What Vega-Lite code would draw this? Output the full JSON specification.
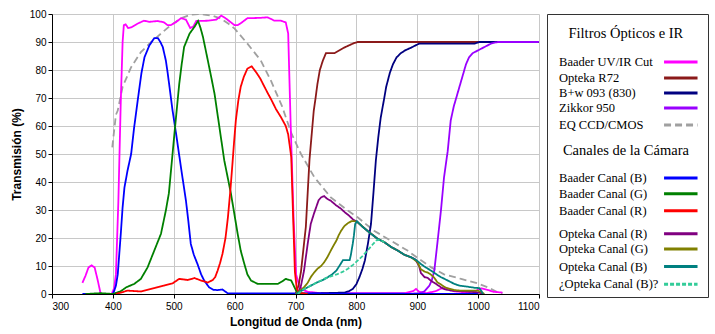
{
  "$schema": "https://vega.github.io/schema/vega-lite/v6.json",
  "padding": {"left": 10, "top": 9, "right": 8, "bottom": 5},
  "spacing": 8,
  "bounds": "flush",
  "background": "white",
  "config": {
    "font": "Liberation Sans",
    "axis": {"labelFont": "Liberation Sans", "titleFont": "Liberation Sans", "labelColor": "#000", "titleColor": "#000", "domainColor": "#000", "tickColor": "#000", "gridColor": "#c8c8c8", "gridWidth": 1}
  },
  "datasets": {
    "curves": [
      {"s":"EQ CCD/CMOS","x":399,"y":52.4},{"s":"EQ CCD/CMOS","x":405,"y":64},{"s":"EQ CCD/CMOS","x":408,"y":65.5},{"s":"EQ CCD/CMOS","x":416,"y":74},{"s":"EQ CCD/CMOS","x":430,"y":81},{"s":"EQ CCD/CMOS","x":446,"y":86.4},{"s":"EQ CCD/CMOS","x":463,"y":90},{"s":"EQ CCD/CMOS","x":479,"y":93},{"s":"EQ CCD/CMOS","x":495,"y":96},{"s":"EQ CCD/CMOS","x":512,"y":98.5},{"s":"EQ CCD/CMOS","x":528,"y":99.8},{"s":"EQ CCD/CMOS","x":540,"y":100},{"s":"EQ CCD/CMOS","x":550,"y":99.8},{"s":"EQ CCD/CMOS","x":565,"y":99.3},{"s":"EQ CCD/CMOS","x":578,"y":98.3},{"s":"EQ CCD/CMOS","x":590,"y":96.5},{"s":"EQ CCD/CMOS","x":600,"y":94.8},{"s":"EQ CCD/CMOS","x":621,"y":89.4},{"s":"EQ CCD/CMOS","x":643,"y":83.4},{"s":"EQ CCD/CMOS","x":660,"y":76},{"s":"EQ CCD/CMOS","x":678,"y":67},{"s":"EQ CCD/CMOS","x":693,"y":57.5},{"s":"EQ CCD/CMOS","x":709,"y":50},{"s":"EQ CCD/CMOS","x":731,"y":41.7},{"s":"EQ CCD/CMOS","x":758,"y":34.5},{"s":"EQ CCD/CMOS","x":786,"y":29.8},{"s":"EQ CCD/CMOS","x":802,"y":27.4},{"s":"EQ CCD/CMOS","x":829,"y":22.6},{"s":"EQ CCD/CMOS","x":857,"y":19},{"s":"EQ CCD/CMOS","x":884,"y":15.5},{"s":"EQ CCD/CMOS","x":903,"y":12.5},{"s":"EQ CCD/CMOS","x":923,"y":9.5},{"s":"EQ CCD/CMOS","x":944,"y":7},{"s":"EQ CCD/CMOS","x":972,"y":5.4},{"s":"EQ CCD/CMOS","x":999,"y":3.8},{"s":"EQ CCD/CMOS","x":1016,"y":2.4},{"s":"EQ CCD/CMOS","x":1032,"y":0.6},{"s":"EQ CCD/CMOS","x":1040,"y":0.3},

      {"s":"Baader UV/IR Cut","x":350,"y":4},{"s":"Baader UV/IR Cut","x":355,"y":6.5},{"s":"Baader UV/IR Cut","x":360,"y":9.5},{"s":"Baader UV/IR Cut","x":365,"y":10.2},{"s":"Baader UV/IR Cut","x":370,"y":9.5},{"s":"Baader UV/IR Cut","x":375,"y":5},{"s":"Baader UV/IR Cut","x":380,"y":0},{"s":"Baader UV/IR Cut","x":398,"y":0},{"s":"Baader UV/IR Cut","x":402,"y":2},{"s":"Baader UV/IR Cut","x":405,"y":7},{"s":"Baader UV/IR Cut","x":409,"y":33},{"s":"Baader UV/IR Cut","x":413,"y":69},{"s":"Baader UV/IR Cut","x":416,"y":90},{"s":"Baader UV/IR Cut","x":418,"y":96},{"s":"Baader UV/IR Cut","x":421,"y":96.3},{"s":"Baader UV/IR Cut","x":425,"y":95},{"s":"Baader UV/IR Cut","x":430,"y":95.2},{"s":"Baader UV/IR Cut","x":440,"y":96.5},{"s":"Baader UV/IR Cut","x":451,"y":97.6},{"s":"Baader UV/IR Cut","x":460,"y":97.2},{"s":"Baader UV/IR Cut","x":474,"y":97.5},{"s":"Baader UV/IR Cut","x":484,"y":97},{"s":"Baader UV/IR Cut","x":490,"y":96},{"s":"Baader UV/IR Cut","x":495,"y":96},{"s":"Baader UV/IR Cut","x":503,"y":97},{"s":"Baader UV/IR Cut","x":512,"y":98.5},{"s":"Baader UV/IR Cut","x":520,"y":98},{"s":"Baader UV/IR Cut","x":527,"y":95},{"s":"Baader UV/IR Cut","x":532,"y":95.5},{"s":"Baader UV/IR Cut","x":537,"y":97.5},{"s":"Baader UV/IR Cut","x":556,"y":97.6},{"s":"Baader UV/IR Cut","x":570,"y":98},{"s":"Baader UV/IR Cut","x":578,"y":99.4},{"s":"Baader UV/IR Cut","x":585,"y":98.5},{"s":"Baader UV/IR Cut","x":594,"y":97},{"s":"Baader UV/IR Cut","x":600,"y":96},{"s":"Baader UV/IR Cut","x":605,"y":96},{"s":"Baader UV/IR Cut","x":612,"y":97},{"s":"Baader UV/IR Cut","x":621,"y":98.5},{"s":"Baader UV/IR Cut","x":640,"y":98.6},{"s":"Baader UV/IR Cut","x":654,"y":98.8},{"s":"Baader UV/IR Cut","x":660,"y":98.2},{"s":"Baader UV/IR Cut","x":665,"y":97.6},{"s":"Baader UV/IR Cut","x":676,"y":97.6},{"s":"Baader UV/IR Cut","x":684,"y":97},{"s":"Baader UV/IR Cut","x":688,"y":93},{"s":"Baader UV/IR Cut","x":692,"y":61},{"s":"Baader UV/IR Cut","x":697,"y":26},{"s":"Baader UV/IR Cut","x":701,"y":7},{"s":"Baader UV/IR Cut","x":706,"y":3},{"s":"Baader UV/IR Cut","x":712,"y":1.5},{"s":"Baader UV/IR Cut","x":720,"y":0.8},{"s":"Baader UV/IR Cut","x":740,"y":0.3},{"s":"Baader UV/IR Cut","x":800,"y":0.3},{"s":"Baader UV/IR Cut","x":880,"y":0.3},{"s":"Baader UV/IR Cut","x":893,"y":1},{"s":"Baader UV/IR Cut","x":898,"y":1.8},{"s":"Baader UV/IR Cut","x":903,"y":0.8},{"s":"Baader UV/IR Cut","x":915,"y":0.3},{"s":"Baader UV/IR Cut","x":930,"y":1},{"s":"Baader UV/IR Cut","x":940,"y":2},{"s":"Baader UV/IR Cut","x":950,"y":2},{"s":"Baader UV/IR Cut","x":960,"y":1},{"s":"Baader UV/IR Cut","x":980,"y":0.5},{"s":"Baader UV/IR Cut","x":995,"y":1},{"s":"Baader UV/IR Cut","x":1005,"y":2},{"s":"Baader UV/IR Cut","x":1015,"y":1.5},{"s":"Baader UV/IR Cut","x":1025,"y":0.8},{"s":"Baader UV/IR Cut","x":1040,"y":0.5},

      {"s":"Opteka R72","x":700,"y":0},{"s":"Opteka R72","x":705,"y":3},{"s":"Opteka R72","x":709,"y":8},{"s":"Opteka R72","x":713,"y":16},{"s":"Opteka R72","x":717,"y":24},{"s":"Opteka R72","x":720,"y":36},{"s":"Opteka R72","x":723,"y":48},{"s":"Opteka R72","x":727,"y":58},{"s":"Opteka R72","x":730,"y":65.5},{"s":"Opteka R72","x":733,"y":70},{"s":"Opteka R72","x":736,"y":75},{"s":"Opteka R72","x":740,"y":80},{"s":"Opteka R72","x":745,"y":83.4},{"s":"Opteka R72","x":750,"y":86},{"s":"Opteka R72","x":764,"y":86},{"s":"Opteka R72","x":780,"y":88},{"s":"Opteka R72","x":795,"y":89.5},{"s":"Opteka R72","x":802,"y":90},{"s":"Opteka R72","x":1100,"y":90},

      {"s":"B+w 093 (830)","x":700,"y":0},{"s":"B+w 093 (830)","x":780,"y":0.5},{"s":"B+w 093 (830)","x":788,"y":1},{"s":"B+w 093 (830)","x":794,"y":1.8},{"s":"B+w 093 (830)","x":800,"y":3.5},{"s":"B+w 093 (830)","x":805,"y":6},{"s":"B+w 093 (830)","x":810,"y":9},{"s":"B+w 093 (830)","x":814,"y":12},{"s":"B+w 093 (830)","x":819,"y":18},{"s":"B+w 093 (830)","x":824,"y":25},{"s":"B+w 093 (830)","x":828,"y":36},{"s":"B+w 093 (830)","x":832,"y":47.7},{"s":"B+w 093 (830)","x":836,"y":56},{"s":"B+w 093 (830)","x":840,"y":63},{"s":"B+w 093 (830)","x":845,"y":69},{"s":"B+w 093 (830)","x":849,"y":74},{"s":"B+w 093 (830)","x":855,"y":79},{"s":"B+w 093 (830)","x":860,"y":82},{"s":"B+w 093 (830)","x":866,"y":84.5},{"s":"B+w 093 (830)","x":873,"y":86},{"s":"B+w 093 (830)","x":880,"y":87},{"s":"B+w 093 (830)","x":890,"y":88},{"s":"B+w 093 (830)","x":903,"y":89.4},{"s":"B+w 093 (830)","x":994,"y":89.4},{"s":"B+w 093 (830)","x":1002,"y":90},{"s":"B+w 093 (830)","x":1100,"y":90},

      {"s":"Zikkor 950","x":880,"y":0},{"s":"Zikkor 950","x":905,"y":0.3},{"s":"Zikkor 950","x":912,"y":1},{"s":"Zikkor 950","x":920,"y":3},{"s":"Zikkor 950","x":924,"y":5},{"s":"Zikkor 950","x":928,"y":8.3},{"s":"Zikkor 950","x":933,"y":18},{"s":"Zikkor 950","x":939,"y":30},{"s":"Zikkor 950","x":944,"y":41.7},{"s":"Zikkor 950","x":950,"y":51},{"s":"Zikkor 950","x":955,"y":62},{"s":"Zikkor 950","x":960,"y":67},{"s":"Zikkor 950","x":964,"y":70},{"s":"Zikkor 950","x":972,"y":76},{"s":"Zikkor 950","x":980,"y":82},{"s":"Zikkor 950","x":985,"y":84.5},{"s":"Zikkor 950","x":991,"y":86},{"s":"Zikkor 950","x":1005,"y":87.6},{"s":"Zikkor 950","x":1021,"y":89.4},{"s":"Zikkor 950","x":1032,"y":90},{"s":"Zikkor 950","x":1100,"y":90},

      {"s":"Baader Canal (B)","x":350,"y":0},{"s":"Baader Canal (B)","x":400,"y":0},{"s":"Baader Canal (B)","x":402,"y":1},{"s":"Baader Canal (B)","x":405,"y":3},{"s":"Baader Canal (B)","x":408,"y":7},{"s":"Baader Canal (B)","x":413,"y":21.5},{"s":"Baader Canal (B)","x":416,"y":31},{"s":"Baader Canal (B)","x":419,"y":38},{"s":"Baader Canal (B)","x":424,"y":44},{"s":"Baader Canal (B)","x":430,"y":50},{"s":"Baader Canal (B)","x":435,"y":59.6},{"s":"Baader Canal (B)","x":443,"y":72.7},{"s":"Baader Canal (B)","x":447,"y":79},{"s":"Baader Canal (B)","x":452,"y":84.6},{"s":"Baader Canal (B)","x":460,"y":88.8},{"s":"Baader Canal (B)","x":468,"y":91.4},{"s":"Baader Canal (B)","x":474,"y":91.4},{"s":"Baader Canal (B)","x":478,"y":90},{"s":"Baader Canal (B)","x":482,"y":88.2},{"s":"Baader Canal (B)","x":487,"y":83.4},{"s":"Baader Canal (B)","x":490,"y":79},{"s":"Baader Canal (B)","x":493,"y":74},{"s":"Baader Canal (B)","x":498,"y":65.6},{"s":"Baader Canal (B)","x":504,"y":57},{"s":"Baader Canal (B)","x":508,"y":51},{"s":"Baader Canal (B)","x":512,"y":45},{"s":"Baader Canal (B)","x":520,"y":33.4},{"s":"Baader Canal (B)","x":524,"y":26},{"s":"Baader Canal (B)","x":528,"y":17.9},{"s":"Baader Canal (B)","x":533,"y":14},{"s":"Baader Canal (B)","x":539,"y":10.7},{"s":"Baader Canal (B)","x":545,"y":7},{"s":"Baader Canal (B)","x":550,"y":4.8},{"s":"Baader Canal (B)","x":558,"y":2.4},{"s":"Baader Canal (B)","x":565,"y":1.5},{"s":"Baader Canal (B)","x":572,"y":1.4},{"s":"Baader Canal (B)","x":580,"y":1.6},{"s":"Baader Canal (B)","x":589,"y":0.2},{"s":"Baader Canal (B)","x":700,"y":0.2},{"s":"Baader Canal (B)","x":1000,"y":0},

      {"s":"Baader Canal (G)","x":355,"y":0},{"s":"Baader Canal (G)","x":380,"y":0.3},{"s":"Baader Canal (G)","x":400,"y":0},{"s":"Baader Canal (G)","x":413,"y":1},{"s":"Baader Canal (G)","x":422,"y":2.4},{"s":"Baader Canal (G)","x":435,"y":3.6},{"s":"Baader Canal (G)","x":446,"y":5.4},{"s":"Baader Canal (G)","x":457,"y":9.5},{"s":"Baader Canal (G)","x":468,"y":15.5},{"s":"Baader Canal (G)","x":479,"y":21.5},{"s":"Baader Canal (G)","x":487,"y":29.8},{"s":"Baader Canal (G)","x":492,"y":36},{"s":"Baader Canal (G)","x":495,"y":43},{"s":"Baader Canal (G)","x":501,"y":57},{"s":"Baader Canal (G)","x":505,"y":66},{"s":"Baader Canal (G)","x":509,"y":75},{"s":"Baader Canal (G)","x":513,"y":82},{"s":"Baader Canal (G)","x":517,"y":88.2},{"s":"Baader Canal (G)","x":526,"y":93},{"s":"Baader Canal (G)","x":534,"y":95.4},{"s":"Baader Canal (G)","x":540,"y":97.5},{"s":"Baader Canal (G)","x":544,"y":95},{"s":"Baader Canal (G)","x":548,"y":91.8},{"s":"Baader Canal (G)","x":556,"y":83.4},{"s":"Baader Canal (G)","x":562,"y":77},{"s":"Baader Canal (G)","x":567,"y":71.5},{"s":"Baader Canal (G)","x":575,"y":59.6},{"s":"Baader Canal (G)","x":583,"y":47.7},{"s":"Baader Canal (G)","x":594,"y":35.8},{"s":"Baader Canal (G)","x":600,"y":28},{"s":"Baader Canal (G)","x":605,"y":21.5},{"s":"Baader Canal (G)","x":610,"y":15.5},{"s":"Baader Canal (G)","x":616,"y":10.7},{"s":"Baader Canal (G)","x":621,"y":7},{"s":"Baader Canal (G)","x":627,"y":4.8},{"s":"Baader Canal (G)","x":638,"y":3.6},{"s":"Baader Canal (G)","x":671,"y":3.6},{"s":"Baader Canal (G)","x":678,"y":4.5},{"s":"Baader Canal (G)","x":684,"y":5.4},{"s":"Baader Canal (G)","x":690,"y":5},{"s":"Baader Canal (G)","x":693,"y":4.8},{"s":"Baader Canal (G)","x":697,"y":3},{"s":"Baader Canal (G)","x":701,"y":1.2},{"s":"Baader Canal (G)","x":706,"y":0.3},{"s":"Baader Canal (G)","x":720,"y":0},

      {"s":"Baader Canal (R)","x":405,"y":0},{"s":"Baader Canal (R)","x":413,"y":0.5},{"s":"Baader Canal (R)","x":424,"y":1.2},{"s":"Baader Canal (R)","x":446,"y":0.9},{"s":"Baader Canal (R)","x":468,"y":2.1},{"s":"Baader Canal (R)","x":484,"y":3},{"s":"Baader Canal (R)","x":498,"y":3.8},{"s":"Baader Canal (R)","x":509,"y":5.4},{"s":"Baader Canal (R)","x":516,"y":5.2},{"s":"Baader Canal (R)","x":523,"y":5},{"s":"Baader Canal (R)","x":534,"y":5.7},{"s":"Baader Canal (R)","x":545,"y":4.8},{"s":"Baader Canal (R)","x":556,"y":4.1},{"s":"Baader Canal (R)","x":564,"y":5},{"s":"Baader Canal (R)","x":568,"y":6},{"s":"Baader Canal (R)","x":572,"y":8.3},{"s":"Baader Canal (R)","x":576,"y":11},{"s":"Baader Canal (R)","x":580,"y":14.3},{"s":"Baader Canal (R)","x":585,"y":20},{"s":"Baader Canal (R)","x":589,"y":27.4},{"s":"Baader Canal (R)","x":593,"y":37},{"s":"Baader Canal (R)","x":596,"y":45.3},{"s":"Baader Canal (R)","x":599,"y":54},{"s":"Baader Canal (R)","x":602,"y":62},{"s":"Baader Canal (R)","x":606,"y":69},{"s":"Baader Canal (R)","x":610,"y":74},{"s":"Baader Canal (R)","x":615,"y":77.5},{"s":"Baader Canal (R)","x":621,"y":80.5},{"s":"Baader Canal (R)","x":628,"y":81.3},{"s":"Baader Canal (R)","x":635,"y":79.3},{"s":"Baader Canal (R)","x":642,"y":77},{"s":"Baader Canal (R)","x":649,"y":74},{"s":"Baader Canal (R)","x":655,"y":71.5},{"s":"Baader Canal (R)","x":660,"y":69.5},{"s":"Baader Canal (R)","x":668,"y":66},{"s":"Baader Canal (R)","x":676,"y":63.2},{"s":"Baader Canal (R)","x":684,"y":60},{"s":"Baader Canal (R)","x":688,"y":57},{"s":"Baader Canal (R)","x":693,"y":48.9},{"s":"Baader Canal (R)","x":695,"y":35},{"s":"Baader Canal (R)","x":697,"y":21.5},{"s":"Baader Canal (R)","x":699,"y":8},{"s":"Baader Canal (R)","x":702,"y":2},{"s":"Baader Canal (R)","x":706,"y":0.5},{"s":"Baader Canal (R)","x":720,"y":0},

      {"s":"Opteka Canal (R)","x":704,"y":0},{"s":"Opteka Canal (R)","x":709,"y":3},{"s":"Opteka Canal (R)","x":714,"y":8.3},{"s":"Opteka Canal (R)","x":720,"y":17.9},{"s":"Opteka Canal (R)","x":725,"y":25},{"s":"Opteka Canal (R)","x":730,"y":28.5},{"s":"Opteka Canal (R)","x":734,"y":31},{"s":"Opteka Canal (R)","x":738,"y":33.5},{"s":"Opteka Canal (R)","x":742,"y":34.5},{"s":"Opteka Canal (R)","x":747,"y":35},{"s":"Opteka Canal (R)","x":752,"y":34},{"s":"Opteka Canal (R)","x":758,"y":33.3},{"s":"Opteka Canal (R)","x":766,"y":31.8},{"s":"Opteka Canal (R)","x":775,"y":30.4},{"s":"Opteka Canal (R)","x":782,"y":29},{"s":"Opteka Canal (R)","x":788,"y":28},{"s":"Opteka Canal (R)","x":795,"y":26.5},{"s":"Opteka Canal (R)","x":801,"y":25.8},{"s":"Opteka Canal (R)","x":818,"y":22.6},{"s":"Opteka Canal (R)","x":835,"y":19.7},{"s":"Opteka Canal (R)","x":846,"y":18.5},{"s":"Opteka Canal (R)","x":857,"y":16.8},{"s":"Opteka Canal (R)","x":868,"y":15.5},{"s":"Opteka Canal (R)","x":879,"y":14},{"s":"Opteka Canal (R)","x":890,"y":13.1},{"s":"Opteka Canal (R)","x":897,"y":12.3},{"s":"Opteka Canal (R)","x":903,"y":10},{"s":"Opteka Canal (R)","x":906,"y":7.5},{"s":"Opteka Canal (R)","x":912,"y":6},{"s":"Opteka Canal (R)","x":917,"y":5.8},{"s":"Opteka Canal (R)","x":922,"y":4.8},{"s":"Opteka Canal (R)","x":928,"y":4},{"s":"Opteka Canal (R)","x":939,"y":2.4},{"s":"Opteka Canal (R)","x":944,"y":1.8},{"s":"Opteka Canal (R)","x":955,"y":1.2},{"s":"Opteka Canal (R)","x":972,"y":1},{"s":"Opteka Canal (R)","x":999,"y":0.6},{"s":"Opteka Canal (R)","x":1010,"y":0},

      {"s":"Opteka Canal (G)","x":700,"y":0},{"s":"Opteka Canal (G)","x":705,"y":0.8},{"s":"Opteka Canal (G)","x":714,"y":2.4},{"s":"Opteka Canal (G)","x":720,"y":4},{"s":"Opteka Canal (G)","x":725,"y":6},{"s":"Opteka Canal (G)","x":730,"y":7.5},{"s":"Opteka Canal (G)","x":736,"y":9},{"s":"Opteka Canal (G)","x":742,"y":10},{"s":"Opteka Canal (G)","x":747,"y":11.3},{"s":"Opteka Canal (G)","x":752,"y":13},{"s":"Opteka Canal (G)","x":758,"y":15.5},{"s":"Opteka Canal (G)","x":763,"y":17.5},{"s":"Opteka Canal (G)","x":767,"y":19},{"s":"Opteka Canal (G)","x":771,"y":21},{"s":"Opteka Canal (G)","x":775,"y":22.6},{"s":"Opteka Canal (G)","x":780,"y":24.2},{"s":"Opteka Canal (G)","x":786,"y":25.3},{"s":"Opteka Canal (G)","x":792,"y":26},{"s":"Opteka Canal (G)","x":797,"y":26},{"s":"Opteka Canal (G)","x":801,"y":25.8},{"s":"Opteka Canal (G)","x":818,"y":22.6},{"s":"Opteka Canal (G)","x":835,"y":19.7},{"s":"Opteka Canal (G)","x":846,"y":18.5},{"s":"Opteka Canal (G)","x":857,"y":16.8},{"s":"Opteka Canal (G)","x":868,"y":15.5},{"s":"Opteka Canal (G)","x":879,"y":14},{"s":"Opteka Canal (G)","x":890,"y":13.1},{"s":"Opteka Canal (G)","x":900,"y":11.5},{"s":"Opteka Canal (G)","x":906,"y":8.8},{"s":"Opteka Canal (G)","x":912,"y":8},{"s":"Opteka Canal (G)","x":917,"y":7.7},{"s":"Opteka Canal (G)","x":922,"y":7},{"s":"Opteka Canal (G)","x":928,"y":5.8},{"s":"Opteka Canal (G)","x":933,"y":4.2},{"s":"Opteka Canal (G)","x":939,"y":3.4},{"s":"Opteka Canal (G)","x":944,"y":2.6},{"s":"Opteka Canal (G)","x":950,"y":2},{"s":"Opteka Canal (G)","x":961,"y":1.4},{"s":"Opteka Canal (G)","x":972,"y":1.2},{"s":"Opteka Canal (G)","x":999,"y":1.2},{"s":"Opteka Canal (G)","x":1005,"y":0.8},{"s":"Opteka Canal (G)","x":1010,"y":0},

      {"s":"Opteka Canal (B)","x":701,"y":0},{"s":"Opteka Canal (B)","x":710,"y":1.2},{"s":"Opteka Canal (B)","x":720,"y":2.4},{"s":"Opteka Canal (B)","x":728,"y":3.3},{"s":"Opteka Canal (B)","x":736,"y":4.2},{"s":"Opteka Canal (B)","x":745,"y":5},{"s":"Opteka Canal (B)","x":753,"y":6},{"s":"Opteka Canal (B)","x":760,"y":7},{"s":"Opteka Canal (B)","x":767,"y":8.3},{"s":"Opteka Canal (B)","x":772,"y":10},{"s":"Opteka Canal (B)","x":778,"y":12.1},{"s":"Opteka Canal (B)","x":789,"y":12.1},{"s":"Opteka Canal (B)","x":791,"y":14},{"s":"Opteka Canal (B)","x":794,"y":17.9},{"s":"Opteka Canal (B)","x":796,"y":21},{"s":"Opteka Canal (B)","x":798,"y":25},{"s":"Opteka Canal (B)","x":801,"y":26},{"s":"Opteka Canal (B)","x":810,"y":24},{"s":"Opteka Canal (B)","x":818,"y":22.6},{"s":"Opteka Canal (B)","x":824,"y":21.5},{"s":"Opteka Canal (B)","x":835,"y":19.7},{"s":"Opteka Canal (B)","x":846,"y":18.5},{"s":"Opteka Canal (B)","x":857,"y":16.8},{"s":"Opteka Canal (B)","x":868,"y":15.5},{"s":"Opteka Canal (B)","x":879,"y":14},{"s":"Opteka Canal (B)","x":890,"y":13.1},{"s":"Opteka Canal (B)","x":897,"y":12.3},{"s":"Opteka Canal (B)","x":903,"y":11.3},{"s":"Opteka Canal (B)","x":906,"y":10.7},{"s":"Opteka Canal (B)","x":914,"y":9.5},{"s":"Opteka Canal (B)","x":923,"y":8.3},{"s":"Opteka Canal (B)","x":931,"y":7.1},{"s":"Opteka Canal (B)","x":939,"y":6},{"s":"Opteka Canal (B)","x":944,"y":5.5},{"s":"Opteka Canal (B)","x":952,"y":4.6},{"s":"Opteka Canal (B)","x":961,"y":3.6},{"s":"Opteka Canal (B)","x":969,"y":3},{"s":"Opteka Canal (B)","x":983,"y":2.6},{"s":"Opteka Canal (B)","x":995,"y":2.2},{"s":"Opteka Canal (B)","x":1002,"y":2.1},{"s":"Opteka Canal (B)","x":1005,"y":1.2},{"s":"Opteka Canal (B)","x":1008,"y":0},

      {"s":"¿Opteka Canal (B)?","x":704,"y":0},{"s":"¿Opteka Canal (B)?","x":712,"y":1.5},{"s":"¿Opteka Canal (B)?","x":725,"y":3},{"s":"¿Opteka Canal (B)?","x":736,"y":4.2},{"s":"¿Opteka Canal (B)?","x":747,"y":5.4},{"s":"¿Opteka Canal (B)?","x":758,"y":6.3},{"s":"¿Opteka Canal (B)?","x":769,"y":7.1},{"s":"¿Opteka Canal (B)?","x":778,"y":8},{"s":"¿Opteka Canal (B)?","x":786,"y":9},{"s":"¿Opteka Canal (B)?","x":795,"y":10.5},{"s":"¿Opteka Canal (B)?","x":802,"y":11.9},{"s":"¿Opteka Canal (B)?","x":810,"y":13.5},{"s":"¿Opteka Canal (B)?","x":818,"y":15.5},{"s":"¿Opteka Canal (B)?","x":826,"y":17.5},{"s":"¿Opteka Canal (B)?","x":833,"y":19.2},{"s":"¿Opteka Canal (B)?","x":839,"y":19.4},{"s":"¿Opteka Canal (B)?","x":846,"y":18.5}
    ],
    "legend": [
      {"label":"Filtros Ópticos e IR","kind":"header","row":1.25},
      {"label":"Baader UV/IR Cut","s":"Baader UV/IR Cut","kind":"item","row":3},
      {"label":"Opteka R72","s":"Opteka R72","kind":"item","row":4},
      {"label":"B+w 093 (830)","s":"B+w 093 (830)","kind":"item","row":4.94},
      {"label":"Zikkor 950","s":"Zikkor 950","kind":"item","row":5.88},
      {"label":"EQ CCD/CMOS","s":"EQ CCD/CMOS","kind":"item","row":6.94},
      {"label":"Canales de la Cámara","kind":"header","row":8.56},
      {"label":"Baader Canal (B)","s":"Baader Canal (B)","kind":"item","row":10.25},
      {"label":"Baader Canal (G)","s":"Baader Canal (G)","kind":"item","row":11.25},
      {"label":"Baader Canal (R)","s":"Baader Canal (R)","kind":"item","row":12.3},
      {"label":"Opteka Canal (R)","s":"Opteka Canal (R)","kind":"item","row":13.75},
      {"label":"Opteka Canal (G)","s":"Opteka Canal (G)","kind":"item","row":14.7},
      {"label":"Opteka Canal (B)","s":"Opteka Canal (B)","kind":"item","row":15.8},
      {"label":"¿Opteka Canal (B)?","s":"¿Opteka Canal (B)?","kind":"item","row":16.9}
    ]
  },
  "hconcat": [
    {
      "width": 487,
      "height": 280,
      "view": {"stroke": null},
      "data": {"name": "curves"},
      "mark": {"type": "line", "strokeWidth": 1.8, "interpolate": "linear", "clip": true},
      "encoding": {
        "x": {"field": "x", "type": "quantitative", "scale": {"domain": [300, 1100], "nice": false, "zero": false},
          "axis": {"values": [300,400,500,600,700,800,900,1000,1100], "format": "d", "title": "Longitud de Onda (nm)", "labelFontSize": 10, "titleFontSize": 12, "titleFontWeight": "bold", "tickSize": 4, "labelPadding": 3, "titlePadding": 5, "grid": true}},
        "y": {"field": "y", "type": "quantitative", "scale": {"domain": [0, 100], "nice": false},
          "axis": {"values": [0,10,20,30,40,50,60,70,80,90,100], "format": "d", "title": "Transmisión (%)", "labelFontSize": 10, "titleFontSize": 12, "titleFontWeight": "bold", "tickSize": 4, "labelPadding": 2, "titlePadding": 6, "grid": true}},
        "color": {"field": "s", "type": "nominal", "legend": null,
          "scale": {"domain": ["EQ CCD/CMOS","Baader UV/IR Cut","Opteka R72","B+w 093 (830)","Zikkor 950","Baader Canal (B)","Baader Canal (G)","Baader Canal (R)","Opteka Canal (R)","Opteka Canal (G)","Opteka Canal (B)","¿Opteka Canal (B)?"],
            "range": ["#a0a0a0","#ff00ff","#8b1a1a","#000080","#9900ff","#0000ff","#008000","#ff0000","#800080","#808000","#008080","#33cc99"]}},
        "strokeDash": {"field": "s", "type": "nominal", "legend": null,
          "scale": {"domain": ["EQ CCD/CMOS","Baader UV/IR Cut","Opteka R72","B+w 093 (830)","Zikkor 950","Baader Canal (B)","Baader Canal (G)","Baader Canal (R)","Opteka Canal (R)","Opteka Canal (G)","Opteka Canal (B)","¿Opteka Canal (B)?"],
            "range": [[7,4],[1,0],[1,0],[1,0],[1,0],[1,0],[1,0],[1,0],[1,0],[1,0],[1,0],[4,2]]}}
      }
    },
    {
      "width": 161,
      "height": 283,
      "view": {"stroke": "#333", "strokeWidth": 1},
      "data": {"name": "legend"},
      "layer": [
        {
          "transform": [{"filter": "datum.kind === 'header'"}],
          "mark": {"type": "text", "font": "Liberation Serif, Times New Roman, DejaVu Serif, serif", "fontSize": 14.5, "align": "center", "baseline": "middle", "color": "#000"},
          "encoding": {
            "x": {"datum": 49, "type": "quantitative", "scale": {"domain": [0, 100], "nice": false, "zero": false}, "axis": null},
            "y": {"field": "row", "type": "quantitative", "scale": {"domain": [0, 17.7], "nice": false, "reverse": true}, "axis": null},
            "text": {"field": "label"}
          }
        },
        {
          "transform": [{"filter": "datum.kind === 'item'"}],
          "mark": {"type": "text", "font": "Liberation Serif, Times New Roman, DejaVu Serif, serif", "fontSize": 12.5, "align": "left", "baseline": "middle", "color": "#000"},
          "encoding": {
            "x": {"datum": 7.5, "type": "quantitative"},
            "y": {"field": "row", "type": "quantitative"},
            "text": {"field": "label"}
          }
        },
        {
          "transform": [{"filter": "datum.kind === 'item'"}],
          "mark": {"type": "rule", "strokeWidth": 3, "strokeCap": "butt"},
          "encoding": {
            "x": {"datum": 72.7, "type": "quantitative"},
            "x2": {"datum": 93.5},
            "y": {"field": "row", "type": "quantitative"},
            "color": {"field": "s", "type": "nominal", "legend": null,
              "scale": {"domain": ["EQ CCD/CMOS","Baader UV/IR Cut","Opteka R72","B+w 093 (830)","Zikkor 950","Baader Canal (B)","Baader Canal (G)","Baader Canal (R)","Opteka Canal (R)","Opteka Canal (G)","Opteka Canal (B)","¿Opteka Canal (B)?"],
                "range": ["#a0a0a0","#ff00ff","#8b1a1a","#000080","#9900ff","#0000ff","#008000","#ff0000","#800080","#808000","#008080","#33cc99"]}},
            "strokeDash": {"field": "s", "type": "nominal", "legend": null,
              "scale": {"domain": ["EQ CCD/CMOS","Baader UV/IR Cut","Opteka R72","B+w 093 (830)","Zikkor 950","Baader Canal (B)","Baader Canal (G)","Baader Canal (R)","Opteka Canal (R)","Opteka Canal (G)","Opteka Canal (B)","¿Opteka Canal (B)?"],
                "range": [[4,3],[1,0],[1,0],[1,0],[1,0],[1,0],[1,0],[1,0],[1,0],[1,0],[1,0],[4,2]]}}
          }
        }
      ]
    }
  ]
}
